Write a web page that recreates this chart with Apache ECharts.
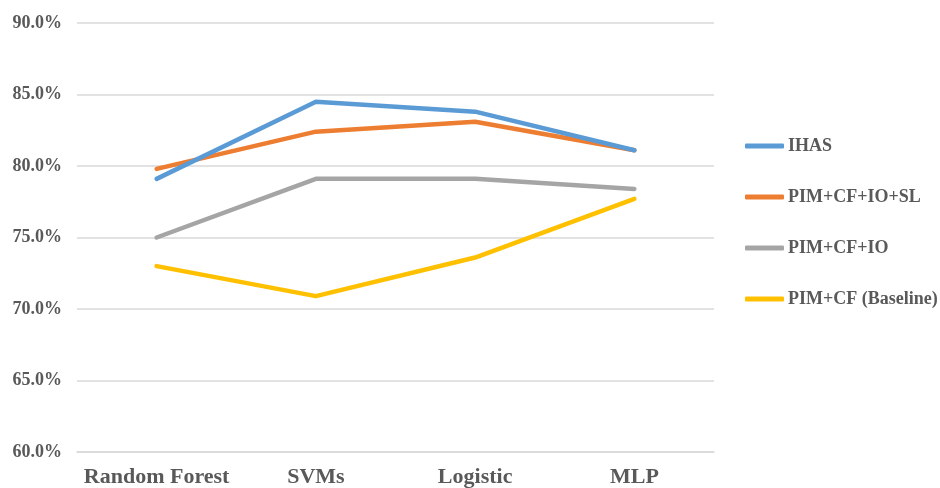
<!DOCTYPE html>
<html>
<head>
<meta charset="utf-8">
<script src="https://cdn.jsdelivr.net/npm/echarts@6/dist/echarts.min.js"></script>
<style>html,body{margin:0;padding:0;background:#fff}#c{width:940px;height:488px}</style>
</head>
<body>
<div id="c"></div>
<script>
var categories = ['Random Forest', 'SVMs', 'Logistic', 'MLP'];
var seriesNames = ['IHAS', 'PIM+CF+IO+SL', 'PIM+CF+IO', 'PIM+CF (Baseline)'];
var ihas = [79.1, 84.5, 83.8, 81.1];
var pimCfIoSl = [79.8, 82.4, 83.1, 81.1];
var pimCfIo = [75.0, 79.1, 79.1, 78.4];
var baseline = [73.0, 70.9, 73.6, 77.7];
var colors = ['#5B9BD5', '#ED7D31', '#A5A5A5', '#FFC000'];

var font = "'Liberation Serif', 'Times New Roman', serif";
var dataSets = [ihas, pimCfIoSl, pimCfIo, baseline];
var chart = echarts.init(document.getElementById('c'));
chart.setOption({
  animation: false,
  backgroundColor: '#fff',
  grid: { left: 77, right: 226, top: 23, bottom: 36, containLabel: false },
  legend: {
    orient: 'vertical', left: 740, top: 132,
    icon: 'roundRect',
    itemWidth: 39, itemHeight: 5, itemGap: 33,
    data: seriesNames,
    textStyle: { fontFamily: font, fontWeight: 'bold', fontSize: 18, color: '#595959', padding: [0, 0, 0, -1] }
  },
  xAxis: {
    type: 'category', data: categories, boundaryGap: true,
    axisLine: { show: true, lineStyle: { color: '#D9D9D9', width: 1.5 } },
    axisTick: { show: false },
    axisLabel: { interval: 0, fontFamily: font, fontWeight: 'bold', fontSize: 22, color: '#595959', margin: 14 }
  },
  yAxis: {
    type: 'value', min: 60, max: 90, interval: 5,
    axisLine: { show: false }, axisTick: { show: false },
    splitLine: { lineStyle: { color: '#D9D9D9', width: 1.5 } },
    axisLabel: { fontFamily: font, fontWeight: 'bold', fontSize: 18, color: '#595959', margin: 15,
      formatter: function (v) { return v.toFixed(1) + '%'; } }
  },
  series: seriesNames.map(function (n, i) {
    return {
      name: n, type: 'line', data: dataSets[i], symbol: 'none',
      color: colors[i],
      lineStyle: { width: 4.5, color: colors[i], cap: 'round', join: 'round' },
      z: 10 - i
    };
  })
});
</script>
</body>
</html>
